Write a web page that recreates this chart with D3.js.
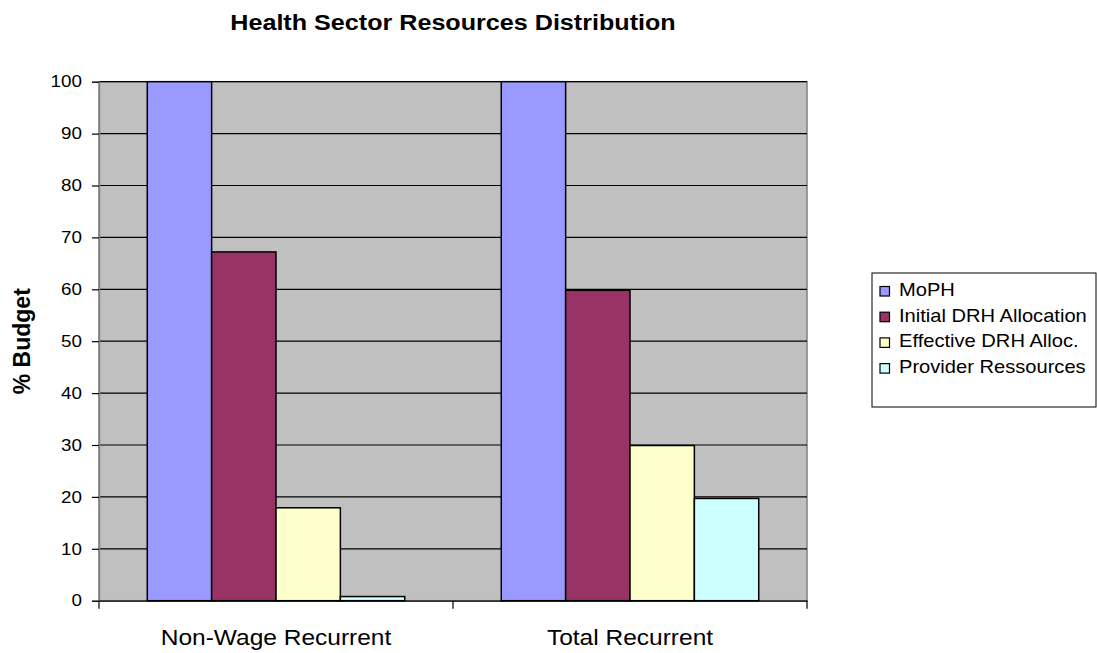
<!DOCTYPE html>
<html>
<head>
<meta charset="utf-8">
<script src="https://cdn.jsdelivr.net/npm/d3@7"></script>
<style>
  body { margin: 0; background: #fff; }
  svg { font-family: "Liberation Sans", Arial, sans-serif; }
</style>
</head>
<body>
<svg id="chart" width="1097" height="653"></svg>
<script>
// chart data
const categories = ["Non-Wage Recurrent", "Total Recurrent"];
const seriesNames = ["MoPH", "Initial DRH Allocation", "Effective DRH Alloc.", "Provider Ressources"];
const seriesColors = ["#9999FF", "#993366", "#FFFFCC", "#CCFFFF"];
const moph = [100, 100];
const initialDRH = [67.2, 59.8];
const effectiveDRH = [17.9, 29.9];
const provider = [0.8, 19.7];
const yTicks = [0, 10, 20, 30, 40, 50, 60, 70, 80, 90, 100];

const allSeries = [moph, initialDRH, effectiveDRH, provider];

const svg = d3.select("#chart");
const plotL = 99, plotR = 807, plotT = 81.7, plotB = 600.7;
const sx = 1.14; // the original text is a little wide

const x = d3.scaleBand().domain(categories).range([plotL, plotR]).padding(0);
const y = d3.scaleLinear().domain([0, 100]).range([plotB, plotT]);

// inner band for bars: gap 1.5 bar widths per category
const bw = x.bandwidth() / 5.5;
const xInner = d3.scaleBand().domain(d3.range(seriesNames.length))
  .range([0.75 * bw, 0.75 * bw + 4 * bw]).padding(0);

// plot background
svg.append("rect")
  .attr("x", plotL).attr("y", plotT)
  .attr("width", plotR - plotL).attr("height", plotB - plotT)
  .attr("fill", "#C0C0C0").attr("stroke", "#808080").attr("stroke-width", 1.5);

// gridlines
svg.append("g").selectAll("line")
  .data(yTicks.filter(d => d > 0))
  .join("line")
  .attr("x1", plotL).attr("x2", plotR)
  .attr("y1", d => y(d)).attr("y2", d => y(d))
  .attr("stroke", "#000").attr("stroke-width", 1.2);

// bars
const groups = svg.append("g").selectAll("g")
  .data(categories)
  .join("g")
  .attr("transform", d => `translate(${x(d)},0)`);

groups.selectAll("rect")
  .data((c, ci) => allSeries.map((s, si) => ({ si: si, v: s[ci] })))
  .join("rect")
  .attr("x", d => xInner(d.si))
  .attr("width", xInner.bandwidth())
  .attr("y", d => y(d.v))
  .attr("height", d => y(0) - y(d.v))
  .attr("fill", d => seriesColors[d.si])
  .attr("stroke", "#000").attr("stroke-width", 1.5);

// y axis
const yAxis = svg.append("g")
  .attr("transform", `translate(${plotL},0)`)
  .call(d3.axisLeft(y).tickValues(yTicks).tickSize(7).tickPadding(8));
yAxis.select(".domain").attr("stroke", "#808080").attr("stroke-width", 1.5);
yAxis.selectAll(".tick line").attr("stroke", "#000").attr("stroke-width", 1.2);
yAxis.selectAll("text").attr("font-size", 16.5).attr("fill", "#000")
  .attr("font-family", "Liberation Sans, Arial, sans-serif")
  .attr("transform", `scale(${sx},1)`);

// x axis
const xAxis = svg.append("g")
  .attr("transform", `translate(0,${plotB})`)
  .call(d3.axisBottom(x).tickSize(0));
xAxis.select(".domain").attr("stroke", "#000").attr("stroke-width", 1.2);
xAxis.selectAll("text").attr("font-size", 21.5).attr("fill", "#000")
  .attr("font-family", "Liberation Sans, Arial, sans-serif")
  .attr("y", 44).attr("dy", 0)
  .attr("transform", `scale(${sx},1)`);
// category separator ticks
const xBounds = categories.map(c => x(c)).concat([plotR]);
svg.append("g").selectAll("line")
  .data(xBounds)
  .join("line")
  .attr("x1", d => d).attr("x2", d => d)
  .attr("y1", plotB).attr("y2", plotB + 8)
  .attr("stroke", "#000").attr("stroke-width", 1.2);

// title
svg.append("g")
  .attr("transform", `translate(${(plotL + plotR) / 2},29.5) scale(1.17,1)`)
  .append("text")
  .attr("text-anchor", "middle")
  .attr("font-size", 21.5).attr("font-weight", "bold")
  .text("Health Sector Resources Distribution");

// y label
svg.append("text")
  .attr("transform", `translate(30,${(plotT + plotB) / 2}) rotate(-90)`)
  .attr("text-anchor", "middle")
  .attr("font-size", 23).attr("font-weight", "bold")
  .text("% Budget");

// legend
const lg = svg.append("g").attr("transform", "translate(872,273)");
lg.append("rect")
  .attr("width", 224).attr("height", 134)
  .attr("fill", "#fff").attr("stroke", "#000").attr("stroke-width", 1);
const items = lg.selectAll("g.item")
  .data(seriesNames)
  .join("g").attr("class", "item")
  .attr("transform", (d, i) => `translate(8,${23 + i * 25.7})`);
items.append("rect")
  .attr("x", 0).attr("y", -9.5).attr("width", 9.5).attr("height", 9.5)
  .attr("fill", (d, i) => seriesColors[i]).attr("stroke", "#000").attr("stroke-width", 1.2);
items.append("g")
  .attr("transform", `translate(19,0) scale(1.15,1)`)
  .append("text")
  .attr("font-size", 17.5)
  .text(d => d);
</script>
</body>
</html>
